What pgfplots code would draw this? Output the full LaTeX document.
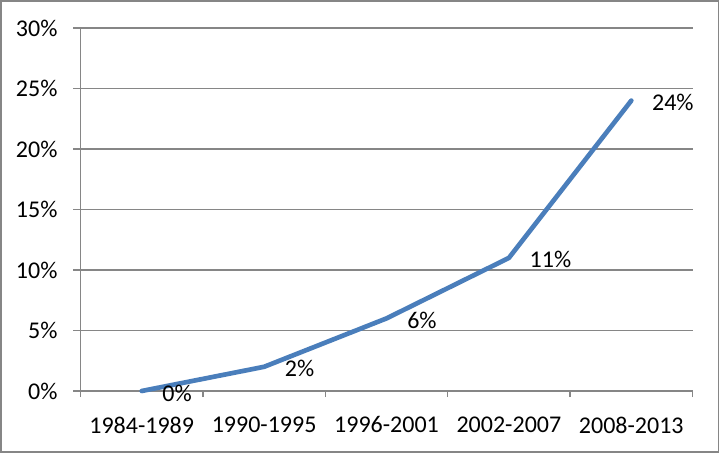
\documentclass[border=0pt]{standalone}
\usepackage{pgfplots}
\pgfplotsset{compat=1.18}
\usepackage{fontspec}
\setmainfont{Carlito}
\definecolor{linec}{RGB}{74,126,187}
\definecolor{gridc}{RGB}{134,134,134}
\begin{document}
\begin{tikzpicture}
\begin{axis}[
  at={(0,0)}, anchor=south west,
  scale only axis, width=459pt, height=272.25pt,
  xmin=-0.5, xmax=4.5, ymin=0, ymax=30,
  axis x line*=bottom, axis y line*=left,
  axis line style={gridc, line width=1.1pt},
  /pgf/number format/assume math mode=true,
  xtick={0,1,2,3,4},
  xticklabels={1984-1989,1990-1995,1996-2001,2002-2007,2008-2013},
  minor xtick={-0.5,0.5,1.5,2.5,3.5,4.5},
  ytick={0,5,10,15,20,25,30},
  yticklabels={0\%,5\%,10\%,15\%,20\%,25\%,30\%},
  ymajorgrids, major grid style={gridc, line width=1.1pt},
  tick align=outside,
  major x tick style={draw=none},
  minor x tick style={gridc, line width=1.1pt},
  major y tick style={gridc, line width=1.1pt},
  major tick length=5.25pt, minor tick length=4.5pt,
  tick label style={font=\fontsize{18}{21}\selectfont, text=black},
  xticklabel style={yshift=-10.5pt},
  yticklabel style={xshift=-8.5pt},
  clip=false,
  nodes near coords={\pgfmathprintnumber[assume math mode=true]{\pgfplotspointmeta}\%},
  every node near coord/.style={anchor=west, xshift=10.5pt, yshift=-1.5pt, font=\fontsize{18}{21}\selectfont, text=black},
]
\addplot[linec, line width=3.5pt, line join=round, line cap=round] coordinates {(0,0) (1,2) (2,6) (3,11) (4,24)};
\end{axis}
\draw[gridc, line width=1.1pt] (-59.625pt,-45.75pt) rectangle (478.5pt,292.5pt);
\pgfresetboundingbox
\useasboundingbox (-60.375pt,-46.5pt) rectangle (479.625pt,293.25pt);
\end{tikzpicture}
\end{document}
